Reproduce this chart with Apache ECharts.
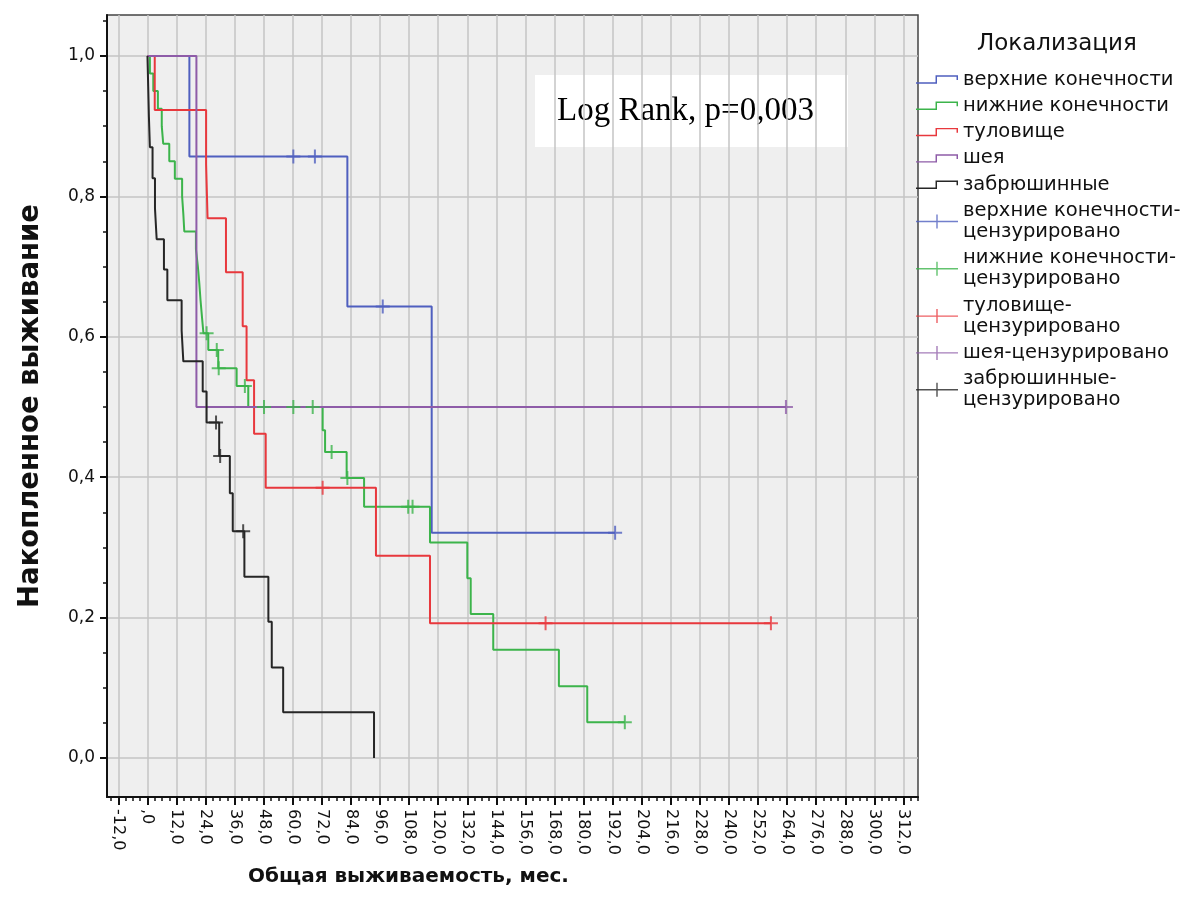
<!DOCTYPE html>
<html>
<head>
<meta charset="utf-8">
<script src="https://cdn.jsdelivr.net/npm/echarts@6/dist/echarts.min.js"></script>
<style>
  html, body { margin: 0; padding: 0; background: #fff; }
  #chart { width: 1201px; height: 921px; }
</style>
</head>
<body>
<div id="chart"></div>
<script>
// Kaplan-Meier curves, months vs cumulative survival
const groupNames = ['верхние конечности', 'нижние конечности', 'туловище', 'шея', 'забрюшинные'];
const groupColors = ['#4f5fbf', '#3cb44b', '#e8383d', '#8e5ca8', '#262626'];

const upperT = [0, 17.3, 82.5, 117.3, 193.0];
const upperS = [1, 0.857, 0.643, 0.321, 0.321];
const upperCensT = [60.2, 69.1, 97.1, 193.0];
const upperCensS = [0.857, 0.857, 0.643, 0.321];

const lowerT = [0, 1.0, 2.4, 4.3, 5.9, 6.5, 9.0, 11.3, 14.3, 14.8, 15.2, 20.0, 20.8, 21.4, 21.9, 22.5, 23.1,
  25.1, 29.2, 36.8, 41.6, 72.3, 73.3, 82.2, 89.4, 116.6, 132.0, 133.4, 142.7, 169.8, 181.5, 197.0];
const lowerS = [1, 0.975, 0.95, 0.925, 0.9, 0.875, 0.85, 0.825, 0.8, 0.775, 0.75, 0.725, 0.7, 0.676, 0.652, 0.628, 0.605,
  0.581, 0.555, 0.53, 0.5, 0.467, 0.436, 0.399, 0.358, 0.307, 0.256, 0.205, 0.154, 0.102, 0.051, 0.051];
const lowerCensT = [24.4, 28.6, 29.4, 40.2, 48.1, 60.2, 68.2, 76.0, 82.5, 107.6, 109.4, 197.0];
const lowerCensS = [0.605, 0.581, 0.555, 0.53, 0.5, 0.5, 0.5, 0.436, 0.399, 0.358, 0.358, 0.051];

const trunkT = [0, 3.0, 24.2, 24.8, 32.4, 39.3, 40.9, 44.0, 48.8, 94.3, 116.6, 257.3];
const trunkS = [1, 0.923, 0.846, 0.769, 0.692, 0.615, 0.538, 0.462, 0.385, 0.288, 0.192, 0.192];
const trunkCensT = [72.3, 164.3, 257.3];
const trunkCensS = [0.385, 0.192, 0.192];

const neckT = [0, 20.2, 263.5];
const neckS = [1, 0.5, 0.5];
const neckCensT = [263.5];
const neckCensS = [0.5];

const retroT = [0, 0.3, 0.6, 1.0, 2.1, 3.1, 3.8, 6.8, 8.2, 14.1, 14.8, 22.8, 24.4, 29.6, 34.0, 35.2, 40.0, 49.9, 51.3, 56.0, 93.5];
const retroS = [1, 0.957, 0.913, 0.870, 0.826, 0.783, 0.739, 0.696, 0.652, 0.609, 0.565, 0.522, 0.478, 0.430, 0.377, 0.323, 0.258, 0.194, 0.129, 0.065, 0];
const retroCensT = [28.3, 30.0, 39.5];
const retroCensS = [0.478, 0.430, 0.323];

const xTicks = [-12, 0, 12, 24, 36, 48, 60, 72, 84, 96, 108, 120, 132, 144, 156, 168, 180, 192, 204, 216, 228, 240, 252, 264, 276, 288, 300, 312];
const yTicks = [0, 0.2, 0.4, 0.6, 0.8, 1.0];

const xMinor = [];
for (let v = -15; v <= 318; v += 3) xMinor.push(v);
const yMinor = [];
for (let i = 0; i <= 21; i++) yMinor.push(+(i * 0.05).toFixed(2));

const lines = [[upperT, upperS], [lowerT, lowerS], [trunkT, trunkS], [neckT, neckS], [retroT, retroS]];
const cens = [[upperCensT, upperCensS], [lowerCensT, lowerCensS], [trunkCensT, trunkCensS], [neckCensT, neckCensS], [retroCensT, retroCensS]];
const censNames = ['верхние конечности-\nцензурировано', 'нижние конечности-\nцензурировано', 'туловище-\nцензурировано',
  'шея-цензурировано', 'забрюшинные-\nцензурировано'];

const FONT = 'DejaVu Sans';
const zip = (a, b) => a.map((t, i) => [t, b[i]]);
const comma = (v) => (v === 0 ? ',0' : v.toFixed(1).replace('.', ','));

const plusMark = 'path://M0,6 H14 V8 H0 Z M6,0 H8 V14 H6 Z';
const stepIcon = 'path://M0,6.6 H18.6 V0 H40 V4.5 H38.6 V1.4 H20 V8 H0 Z';
const censIcon = 'path://M0,6.3 H42 V7.7 H0 Z M20.3,0 H21.7 V14 H20.3 Z';

const series = [];
lines.forEach(([t, s], i) => {
  series.push({
    name: groupNames[i], type: 'line', step: 'end', showSymbol: false, symbol: 'none',
    color: groupColors[i], lineStyle: { width: 2, color: groupColors[i] },
    data: zip(t, s), z: 3
  });
});
cens.forEach(([t, s], i) => {
  series.push({
    name: censNames[i], type: 'scatter', symbol: plusMark, symbolSize: 14,
    color: groupColors[i], itemStyle: { color: groupColors[i] },
    data: zip(t, s), z: 4
  });
});

const chart = echarts.init(document.getElementById('chart'), null, { renderer: 'canvas' });
chart.setOption({
  animation: false,
  backgroundColor: '#ffffff',
  textStyle: { fontFamily: FONT },
  title: {
    text: 'Локализация', left: 972, top: 28,
    textStyle: { fontFamily: FONT, fontSize: 23, fontWeight: 'normal', color: '#111' }
  },
  legend: {
    orient: 'vertical', left: 911, top: 64, itemWidth: 42, itemHeight: 14, itemGap: 5.3,
    selectedMode: false,
    textStyle: { fontFamily: FONT, fontSize: 19.5, lineHeight: 21, color: '#111' },
    data: groupNames.map((n) => ({ name: n, icon: stepIcon }))
      .concat(censNames.map((n) => ({ name: n, icon: censIcon })))
  },
  grid: {
    left: 107, right: 283, top: 15, bottom: 124, show: true,
    backgroundColor: '#efefef', borderColor: '#444', borderWidth: 1.5
  },
  xAxis: [{
    type: 'value', min: -16.7, max: 318,
    name: 'Общая выживаемость, мес.', nameLocation: 'middle', nameGap: 70,
    nameTextStyle: { fontFamily: FONT, fontSize: 20, fontWeight: 'bold', color: '#111', padding: [0, 208, 0, 0] },
    axisLine: { onZero: false, lineStyle: { color: '#111', width: 2 } },
    axisTick: { customValues: xTicks, length: 8, lineStyle: { color: '#111', width: 2 } },
    axisLabel: { customValues: xTicks, rotate: -90, margin: 12, fontSize: 16, color: '#111', formatter: comma },
    splitLine: { show: true, lineStyle: { color: '#c4c4c4', width: 1.5 } }
  }, {
    type: 'value', min: -16.7, max: 318, position: 'bottom',
    axisLine: { show: false, onZero: false },
    axisTick: { customValues: xMinor, length: 4, lineStyle: { color: '#111', width: 1.5 } },
    axisLabel: { show: false }, splitLine: { show: false }
  }],
  yAxis: [{
    type: 'value', min: -0.0556, max: 1.0584,
    name: 'Накопленное выживание', nameLocation: 'middle', nameGap: 62,
    nameTextStyle: { fontFamily: FONT, fontSize: 27.5, fontWeight: 'bold', color: '#111' },
    axisLine: { show: true, onZero: false, lineStyle: { color: '#111', width: 2 } },
    axisTick: { show: true, customValues: yTicks, length: 7, lineStyle: { color: '#111', width: 2 } },
    axisLabel: { customValues: yTicks, margin: 12, fontSize: 17, color: '#111', formatter: (v) => v.toFixed(1).replace('.', ',') },
    splitLine: { show: true, lineStyle: { color: '#c4c4c4', width: 1.5 } }
  }, {
    type: 'value', min: -0.0556, max: 1.0584, position: 'left',
    axisLine: { show: false, onZero: false },
    axisTick: { show: true, customValues: yMinor, length: 4, lineStyle: { color: '#111', width: 1.5 } },
    axisLabel: { show: false }, splitLine: { show: false }
  }],
  graphic: [{
    type: 'group', left: 535, top: 75, z: 10,
    children: [
      { type: 'rect', shape: { x: 0, y: 0, width: 313, height: 72 }, style: { fill: '#ffffff' } },
      { type: 'text', x: 22, y: 36, style: { text: 'Log Rank, p=0,003', font: '33px "Liberation Serif"', fill: '#000', verticalAlign: 'middle' } }
    ]
  }],
  series: series
});
</script>
</body>
</html>
